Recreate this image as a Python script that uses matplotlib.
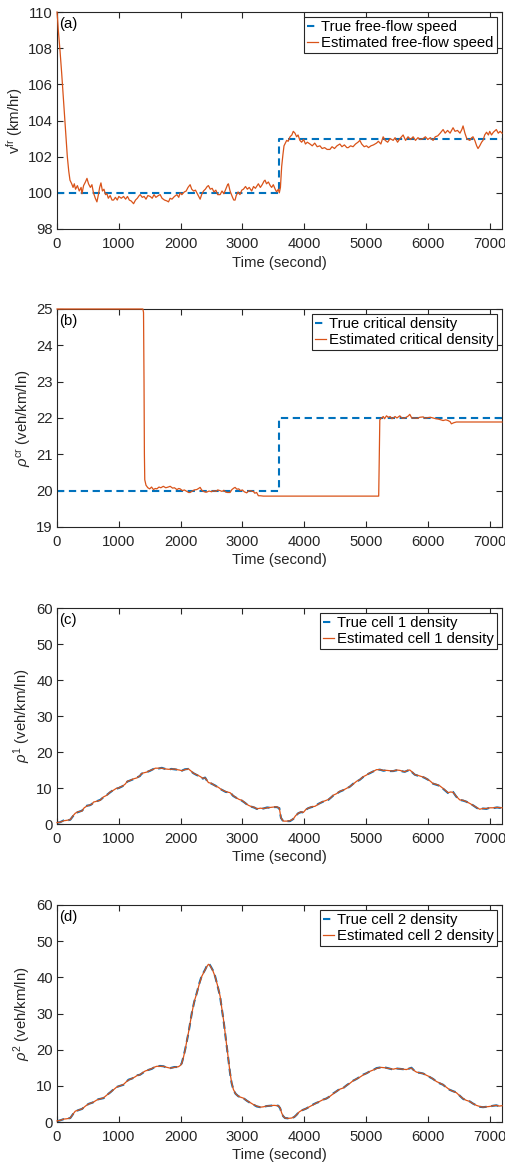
import matplotlib
matplotlib.use("Agg")
import matplotlib.pyplot as plt

plt.rcParams['font.family'] = ['Liberation Sans', 'DejaVu Sans']
plt.rcParams['mathtext.fontset'] = 'custom'
plt.rcParams['mathtext.rm'] = 'Liberation Sans'
plt.rcParams['mathtext.it'] = 'Liberation Sans:italic'
FS = 10.7
plt.rcParams['font.size'] = FS

# ---------------- (a) free-flow speed ----------------
true_time_a = [0, 3600, 7200]
true_speed = [100, 103, 103]

time_a = [0, 10, 21, 50, 76, 100, 129, 150, 167, 190, 210, 238, 260, 280, 300, 330, 360, 390, 404, 430,
          460, 485, 510, 540, 565, 590, 620, 646, 670, 690, 711, 735, 760, 785, 808, 830, 860, 890, 915, 945,
          975, 1000, 1040, 1077, 1110, 1140, 1170, 1200, 1239, 1270, 1300, 1330, 1346, 1380, 1410, 1440, 1470, 1508, 1540, 1570,
          1600, 1640, 1669, 1700, 1740, 1780, 1804, 1830, 1860, 1900, 1940, 1970, 1992, 2020, 2060, 2090, 2120, 2154, 2180, 2210,
          2240, 2270, 2300, 2316, 2340, 2370, 2400, 2430, 2450, 2480, 2510, 2540, 2570, 2600, 2639, 2670, 2700, 2730, 2760, 2773,
          2800, 2840, 2860, 2881, 2900, 2930, 2960, 2990, 3016, 3050, 3080, 3110, 3150, 3180, 3210, 3240, 3258, 3290, 3320, 3350,
          3366, 3390, 3420, 3450, 3473, 3500, 3530, 3554, 3580, 3597, 3615, 3635, 3655, 3673, 3695, 3716, 3740, 3770, 3800, 3823,
          3850, 3877, 3900, 3930, 3958, 3990, 4020, 4050, 4093, 4130, 4170, 4210, 4254, 4290, 4330, 4370, 4416, 4450, 4490, 4530,
          4577, 4610, 4650, 4690, 4712, 4750, 4790, 4830, 4870, 4900, 4930, 4970, 5008, 5040, 5080, 5120, 5170, 5200, 5240, 5277,
          5310, 5350, 5390, 5439, 5470, 5510, 5550, 5600, 5640, 5680, 5720, 5762, 5800, 5840, 5880, 5924, 5960, 6000, 6040, 6085,
          6120, 6160, 6200, 6247, 6280, 6320, 6360, 6408, 6440, 6480, 6520, 6550, 6570, 6600, 6630, 6651, 6680, 6710, 6731, 6760,
          6790, 6812, 6840, 6870, 6893, 6920, 6950, 6980, 7001, 7030, 7060, 7108, 7140, 7170, 7200]
speed_est = [110.0, 109.6, 109.0, 107.8, 106.6, 105.4, 104.0, 102.9, 102.0, 101.2, 100.7, 100.5, 100.3, 100.5, 100.2, 100.4, 100.1, 100.3, 99.95, 100.4,
             100.6, 100.8, 100.5, 100.3, 100.45, 100.0, 99.7, 99.5, 99.9, 100.3, 100.55, 100.1, 100.2, 99.9, 99.95, 99.7, 99.85, 99.6, 99.6, 99.75,
             99.6, 99.8, 99.7, 99.8, 99.65, 99.8, 99.6, 99.55, 99.4, 99.6, 99.7, 99.85, 99.9, 99.75, 99.8, 99.65, 99.85, 99.8, 99.7, 99.9,
             99.75, 99.85, 99.9, 99.7, 99.6, 99.55, 99.5, 99.7, 99.65, 99.8, 99.9, 99.75, 100.0, 99.9, 100.05, 100.1, 100.3, 100.45, 100.2, 100.1,
             100.15, 99.95, 99.75, 99.65, 99.9, 100.1, 100.2, 100.35, 100.4, 100.2, 100.25, 100.05, 100.15, 99.9, 99.9, 100.1, 99.95, 100.2, 100.45, 100.5,
             100.1, 99.75, 99.6, 99.6, 99.85, 100.05, 99.9, 100.15, 100.2, 100.35, 100.2, 100.3, 100.1, 100.35, 100.25, 100.4, 100.5, 100.3, 100.45, 100.65,
             100.7, 100.5, 100.6, 100.4, 100.3, 100.45, 100.2, 100.05, 100.2, 100.0, 100.3, 101.45, 102.1, 102.6, 102.75, 102.9, 102.85, 103.1, 103.2, 103.4,
             103.3, 103.1, 103.2, 102.9, 102.8, 102.95, 102.7, 102.8, 102.7, 102.6, 102.75, 102.55, 102.6, 102.45, 102.5, 102.4, 102.4, 102.55, 102.45, 102.6,
             102.7, 102.55, 102.65, 102.5, 102.5, 102.6, 102.55, 102.7, 102.8, 102.9, 102.7, 102.55, 102.6, 102.5, 102.6, 102.65, 102.75, 102.85, 102.7, 103.1,
             102.9, 102.8, 103.0, 102.9, 103.05, 102.8, 103.0, 103.2, 102.9, 103.1, 102.95, 103.1, 102.9, 103.05, 102.95, 103.0, 103.1, 102.95, 103.05, 102.9,
             103.1, 103.15, 103.3, 103.5, 103.3, 103.45, 103.3, 103.6, 103.4, 103.45, 103.3, 103.5, 103.7, 103.3, 103.0, 102.95, 102.9, 103.05, 103.1, 102.9,
             102.6, 102.45, 102.6, 102.8, 102.9, 103.2, 103.35, 103.2, 103.4, 103.2, 103.35, 103.5, 103.3, 103.4, 103.3]

# ---------------- (b) critical density ----------------
true_time_b = [0, 3600, 7200]
true_crit = [20, 22, 22]

time_b = [0, 1390, 1400, 1408, 1414, 1420, 1440, 1470, 1500, 1530, 1560, 1590, 1616, 1650, 1680, 1720, 1760, 1800, 1831, 1870,
          1900, 1940, 1970, 1992, 2030, 2060, 2100, 2130, 2154, 2190, 2220, 2260, 2290, 2316, 2340, 2370, 2400, 2423, 2460, 2500,
          2530, 2570, 2600, 2639, 2670, 2700, 2730, 2760, 2800, 2830, 2860, 2881, 2910, 2940, 2970, 3000, 3030, 3069, 3100, 3130,
          3160, 3177, 3200, 3230, 3258, 3290, 3339, 5205, 5215, 5223, 5250, 5280, 5300, 5331, 5360, 5390, 5420, 5439, 5470, 5500,
          5547, 5580, 5610, 5650, 5680, 5708, 5740, 5789, 5830, 5870, 5924, 5960, 6000, 6040, 6085, 6130, 6170, 6210, 6247, 6290,
          6327, 6360, 6381, 6420, 6462, 7200]
crit_est = [25, 25, 24.9, 23.0, 21.0, 20.3, 20.15, 20.08, 20.05, 20.1, 20.03, 20.06, 20.05, 20.1, 20.08, 20.12, 20.08, 20.1, 20.12, 20.07,
            20.08, 20.03, 20.06, 20.05, 20.0, 20.02, 19.98, 19.95, 19.95, 19.99, 20.02, 20.03, 20.06, 20.09, 20.02, 19.98, 19.96, 19.96, 19.99, 19.97,
            20.0, 19.98, 20.02, 20.0, 19.98, 20.01, 19.96, 19.95, 19.95, 20.03, 20.07, 20.09, 20.04, 20.05, 20.0, 20.02, 19.97, 19.94, 19.99, 20.0,
            19.98, 19.98, 19.93, 19.95, 19.86, 19.86, 19.85, 19.85, 21.0, 21.95, 22.0, 22.04, 21.98, 22.06, 22.02, 22.04, 21.98, 22.0, 22.04, 22.0,
            22.06, 22.0, 21.99, 22.02, 22.05, 22.1, 22.0, 22.0, 21.99, 22.02, 22.03, 21.99, 22.01, 22.02, 22.0, 21.98, 21.97, 21.95, 21.93, 21.95,
            21.93, 21.9, 21.84, 21.87, 21.89, 21.89]

# ---------------- (c) cell 1 density ----------------
time_c = [0, 50, 108, 150, 215, 260, 296, 340, 404, 440, 485, 530, 560, 592, 640, 700, 750, 808, 860, 915,
          960, 1000, 1023, 1060, 1104, 1140, 1185, 1230, 1292, 1340, 1370, 1400, 1450, 1508, 1550, 1589, 1640, 1696, 1750, 1804,
          1850, 1900, 1939, 1980, 2019, 2070, 2127, 2170, 2208, 2260, 2316, 2360, 2396, 2420, 2450, 2500, 2558, 2610, 2666, 2730,
          2800, 2850, 2908, 2950, 2989, 3040, 3096, 3150, 3200, 3231, 3290, 3339, 3400, 3446, 3500, 3554, 3597, 3610, 3624, 3662,
          3720, 3770, 3823, 3860, 3904, 3950, 3985, 4030, 4066, 4120, 4173, 4230, 4281, 4330, 4389, 4430, 4470, 4520, 4577, 4630,
          4685, 4740, 4793, 4850, 4900, 4950, 5008, 5060, 5116, 5170, 5224, 5280, 5331, 5390, 5439, 5490, 5547, 5590, 5627, 5670,
          5708, 5750, 5789, 5840, 5897, 5950, 6004, 6040, 6085, 6140, 6193, 6260, 6327, 6370, 6408, 6460, 6516, 6570, 6624, 6680,
          6731, 6790, 6839, 6890, 6947, 7000, 7054, 7120, 7200]
cell1_true = [0.3, 0.5, 1.0, 0.9, 1.2, 2.2, 3.0, 3.3, 3.7, 4.4, 5.1, 5.2, 5.5, 6.0, 6.3, 6.7, 7.4, 8.1, 8.8, 9.5,
              9.8, 10.0, 10.2, 10.5, 11.2, 11.8, 12.1, 12.4, 12.9, 13.3, 14.0, 14.1, 14.4, 14.8, 15.2, 15.5, 15.4, 15.6, 15.3, 15.1,
              15.3, 15.2, 15.1, 14.9, 14.8, 15.2, 15.3, 14.6, 14.1, 13.6, 13.2, 12.6, 12.9, 12.2, 11.5, 11.2, 10.7, 10.1, 9.5, 8.9,
              8.8, 7.8, 7.2, 6.9, 6.5, 5.9, 5.1, 4.8, 4.5, 4.2, 4.3, 4.3, 4.6, 4.5, 4.7, 4.7, 4.4, 3.0, 1.7, 0.7,
              0.8, 0.8, 1.4, 2.2, 3.0, 3.3, 3.2, 4.0, 4.4, 4.7, 4.9, 5.6, 6.0, 6.4, 6.7, 7.3, 7.9, 8.4, 9.0, 9.4,
              9.8, 10.4, 11.2, 11.8, 12.3, 13.0, 13.7, 14.1, 14.6, 15.0, 15.1, 14.8, 14.9, 14.7, 14.7, 14.9, 14.9, 14.6, 14.5, 14.8,
              15.1, 14.3, 13.7, 13.4, 13.2, 12.8, 12.3, 11.8, 11.2, 10.9, 10.6, 9.6, 8.6, 8.9, 8.9, 7.6, 6.7, 6.5, 6.2, 5.6,
              5.2, 4.5, 4.0, 4.3, 4.2, 4.5, 4.4, 4.6, 4.4]
cell1_est = [0.4, 0.5, 0.9, 1.0, 1.2, 2.3, 3.0, 3.4, 3.6, 4.5, 5.0, 5.3, 5.4, 6.1, 6.3, 6.6, 7.5, 8.0, 8.9, 9.4,
             9.9, 10.0, 10.3, 10.5, 11.1, 11.9, 12.1, 12.5, 12.8, 13.4, 14.0, 14.2, 14.4, 14.9, 15.1, 15.5, 15.5, 15.5, 15.3, 15.2,
             15.2, 15.3, 15.1, 15.0, 14.8, 15.1, 15.3, 14.7, 14.1, 13.7, 13.2, 12.7, 12.8, 12.3, 11.5, 11.3, 10.6, 10.2, 9.5, 9.0,
             8.7, 7.9, 7.2, 6.8, 6.6, 5.9, 5.2, 4.8, 4.6, 4.2, 4.4, 4.3, 4.5, 4.6, 4.7, 4.8, 4.4, 3.1, 1.7, 0.8,
             0.8, 0.9, 1.4, 2.3, 3.0, 3.4, 3.2, 4.1, 4.4, 4.8, 4.9, 5.5, 6.1, 6.4, 6.8, 7.3, 8.0, 8.4, 9.1, 9.4,
             9.9, 10.4, 11.1, 11.9, 12.3, 13.1, 13.6, 14.2, 14.6, 15.1, 15.1, 14.9, 14.9, 14.8, 14.7, 15.0, 14.9, 14.7, 14.5, 14.9,
             15.0, 14.4, 13.7, 13.5, 13.2, 12.9, 12.3, 11.9, 11.2, 11.0, 10.6, 9.7, 8.7, 8.9, 8.8, 7.7, 6.7, 6.6, 6.2, 5.7,
             5.2, 4.6, 4.1, 4.3, 4.3, 4.5, 4.5, 4.6, 4.5]

# ---------------- (d) cell 2 density ----------------
time_d = [0, 60, 108, 160, 215, 260, 296, 350, 404, 460, 511, 580, 646, 700, 754, 810, 862, 920, 969, 1020,
          1077, 1120, 1158, 1210, 1265, 1300, 1346, 1390, 1427, 1480, 1535, 1580, 1615, 1670, 1723, 1780, 1831, 1900, 1966, 2000,
          2019, 2045, 2073, 2100, 2127, 2155, 2181, 2220, 2262, 2300, 2343, 2370, 2396, 2425, 2450, 2470, 2488, 2520, 2558, 2600,
          2639, 2665, 2693, 2720, 2746, 2775, 2800, 2825, 2854, 2890, 2935, 2980, 3016, 3070, 3123, 3180, 3231, 3290, 3339, 3390,
          3446, 3510, 3581, 3610, 3635, 3660, 3689, 3740, 3796, 3840, 3877, 3920, 3958, 4030, 4093, 4150, 4200, 4250, 4308, 4360,
          4416, 4470, 4523, 4580, 4631, 4690, 4739, 4790, 4846, 4900, 4954, 5010, 5062, 5120, 5170, 5240, 5304, 5370, 5439, 5490,
          5547, 5600, 5654, 5700, 5735, 5780, 5816, 5870, 5924, 5980, 6031, 6085, 6139, 6190, 6247, 6300, 6354, 6410, 6462, 6520,
          6570, 6620, 6677, 6730, 6785, 6840, 6893, 6950, 7001, 7060, 7108, 7150, 7200]
cell2_true = [0.2, 0.5, 0.8, 0.9, 1.1, 2.2, 2.9, 3.3, 3.6, 4.4, 5.0, 5.4, 6.2, 6.4, 6.6, 7.5, 8.2, 9.1, 9.7, 10.0,
              10.3, 11.1, 11.7, 12.0, 12.4, 12.9, 13.1, 13.6, 14.2, 14.4, 14.7, 15.2, 15.4, 15.5, 15.4, 15.0, 14.9, 15.2, 15.2, 15.7,
              16.3, 18.0, 20.0, 22.3, 24.6, 27.5, 30.1, 33.2, 35.7, 38.2, 40.5, 41.3, 42.1, 43.2, 43.8, 43.5, 43.0, 42.0, 40.3, 37.5,
              34.7, 31.5, 28.3, 24.5, 20.9, 17.0, 13.5, 10.8, 8.9, 7.8, 7.1, 6.9, 6.6, 5.9, 5.3, 4.8, 4.3, 4.1, 4.1, 4.4,
              4.5, 4.6, 4.5, 3.8, 2.5, 1.6, 1.1, 1.0, 1.0, 1.4, 2.0, 2.9, 3.2, 3.7, 4.3, 4.9, 5.3, 5.6, 6.2, 6.5,
              7.1, 7.9, 8.5, 9.2, 9.4, 10.2, 10.8, 11.4, 11.9, 12.5, 13.1, 13.5, 14.0, 14.4, 14.9, 15.1, 15.1, 14.8, 14.5, 14.8,
              14.7, 14.6, 14.5, 14.8, 15.0, 14.2, 13.7, 13.6, 13.4, 12.9, 12.4, 11.9, 11.2, 10.7, 10.3, 9.5, 8.9, 8.5, 8.2, 7.2,
              6.4, 6.0, 5.7, 5.1, 4.6, 4.2, 4.1, 4.2, 4.3, 4.5, 4.6, 4.4, 4.5]
cell2_est = [0.3, 0.5, 0.8, 0.9, 1.1, 2.2, 3.0, 3.3, 3.6, 4.4, 5.0, 5.4, 6.1, 6.4, 6.7, 7.5, 8.2, 9.0, 9.7, 10.0,
             10.4, 11.1, 11.6, 12.0, 12.5, 12.9, 13.1, 13.7, 14.1, 14.4, 14.8, 15.2, 15.4, 15.4, 15.4, 15.1, 14.9, 15.1, 15.3, 15.7,
             16.2, 17.8, 19.9, 22.4, 24.7, 27.4, 30.0, 33.3, 35.6, 38.0, 40.3, 41.2, 42.0, 43.0, 43.6, 43.4, 42.9, 41.9, 40.2, 37.6,
             34.8, 31.6, 28.4, 24.6, 21.0, 17.1, 13.6, 10.9, 9.0, 7.8, 7.1, 6.8, 6.6, 5.9, 5.4, 4.8, 4.4, 4.1, 4.2, 4.4,
             4.5, 4.6, 4.5, 3.9, 2.5, 1.6, 1.1, 1.0, 1.1, 1.4, 2.0, 2.8, 3.2, 3.7, 4.3, 4.8, 5.3, 5.7, 6.2, 6.5,
             7.1, 7.8, 8.5, 9.1, 9.4, 10.2, 10.7, 11.4, 11.9, 12.4, 13.0, 13.5, 14.0, 14.4, 14.8, 15.1, 15.0, 14.8, 14.6, 14.8,
             14.7, 14.6, 14.5, 14.8, 14.9, 14.2, 13.8, 13.6, 13.4, 12.9, 12.5, 11.9, 11.2, 10.8, 10.3, 9.6, 8.9, 8.5, 8.1, 7.2,
             6.5, 6.0, 5.7, 5.1, 4.6, 4.3, 4.1, 4.2, 4.3, 4.5, 4.6, 4.4, 4.5]

BLUE = '#0072BD'
ORANGE = '#D95319'
DARK = '#262626'

fig = plt.figure(figsize=(5.06, 11.64), dpi=100)
left, width = 57 / 506, 445 / 506
boxes = [(12, 229), (309, 527), (608, 824), (905, 1122)]
axes = [fig.add_axes([left, 1 - b / 1164, width, (b - t) / 1164]) for t, b in boxes]

panels = [
    dict(tt=true_time_a, tv=true_speed, et=time_a, ev=speed_est, step=True,
         ylim=(98, 110), yticks=range(98, 111, 2), tag='(a)',
         ylabel=r'$\mathrm{v}^{\mathrm{fr}}$ (km/hr)',
         labels=('True free-flow speed', 'Estimated free-flow speed')),
    dict(tt=true_time_b, tv=true_crit, et=time_b, ev=crit_est, step=True,
         ylim=(19, 25), yticks=range(19, 26), tag='(b)',
         ylabel=r'$\rho^{\mathrm{cr}}$ (veh/km/ln)',
         labels=('True critical density', 'Estimated critical density')),
    dict(tt=time_c, tv=cell1_true, et=time_c, ev=cell1_est, step=False,
         ylim=(0, 60), yticks=range(0, 61, 10), tag='(c)',
         ylabel=r'$\rho^{1}$ (veh/km/ln)',
         labels=('True cell 1 density', 'Estimated cell 1 density')),
    dict(tt=time_d, tv=cell2_true, et=time_d, ev=cell2_est, step=False,
         ylim=(0, 60), yticks=range(0, 61, 10), tag='(d)',
         ylabel=r'$\rho^{2}$ (veh/km/ln)',
         labels=('True cell 2 density', 'Estimated cell 2 density')),
]

for ax, p in zip(axes, panels):
    ax.plot(p['tt'], p['tv'], color=BLUE, lw=1.5, ls=(0, (3.5, 2.2)),
            drawstyle='steps-post' if p['step'] else 'default', label=p['labels'][0])
    ax.plot(p['et'], p['ev'], color=ORANGE, lw=0.9, label=p['labels'][1],
            zorder=3, clip_on=False)
    ax.set_xlim(0, 7200)
    ax.set_ylim(*p['ylim'])
    ax.set_xticks(range(0, 7001, 1000))
    ax.set_yticks(list(p['yticks']))
    ax.tick_params(direction='in', top=True, right=True, length=4, width=0.8,
                   colors=DARK, labelsize=FS, labelcolor=DARK, pad=3)
    ax.tick_params(axis='x', pad=5.5)
    for s in ax.spines.values():
        s.set_color(DARK)
        s.set_linewidth(0.8)
    ax.set_xlabel('Time (second)', color=DARK, fontsize=FS, labelpad=3.5)
    ax.set_ylabel(p['ylabel'], color=DARK, fontsize=FS, labelpad=2)
    ax.text(0.005, 0.975, p['tag'], transform=ax.transAxes, ha='left', va='top',
            fontsize=FS, color='black')
    leg = ax.legend(loc='upper right', fontsize=FS, frameon=True, fancybox=False,
                    handlelength=0.75, handletextpad=0.2, borderpad=0.2,
                    labelspacing=0.15, borderaxespad=0.35, framealpha=1)
    leg.get_frame().set_edgecolor(DARK)
    leg.get_frame().set_linewidth(0.8)
    for t in leg.get_texts():
        t.set_color('black')

fig.savefig('out.png', dpi=100)
